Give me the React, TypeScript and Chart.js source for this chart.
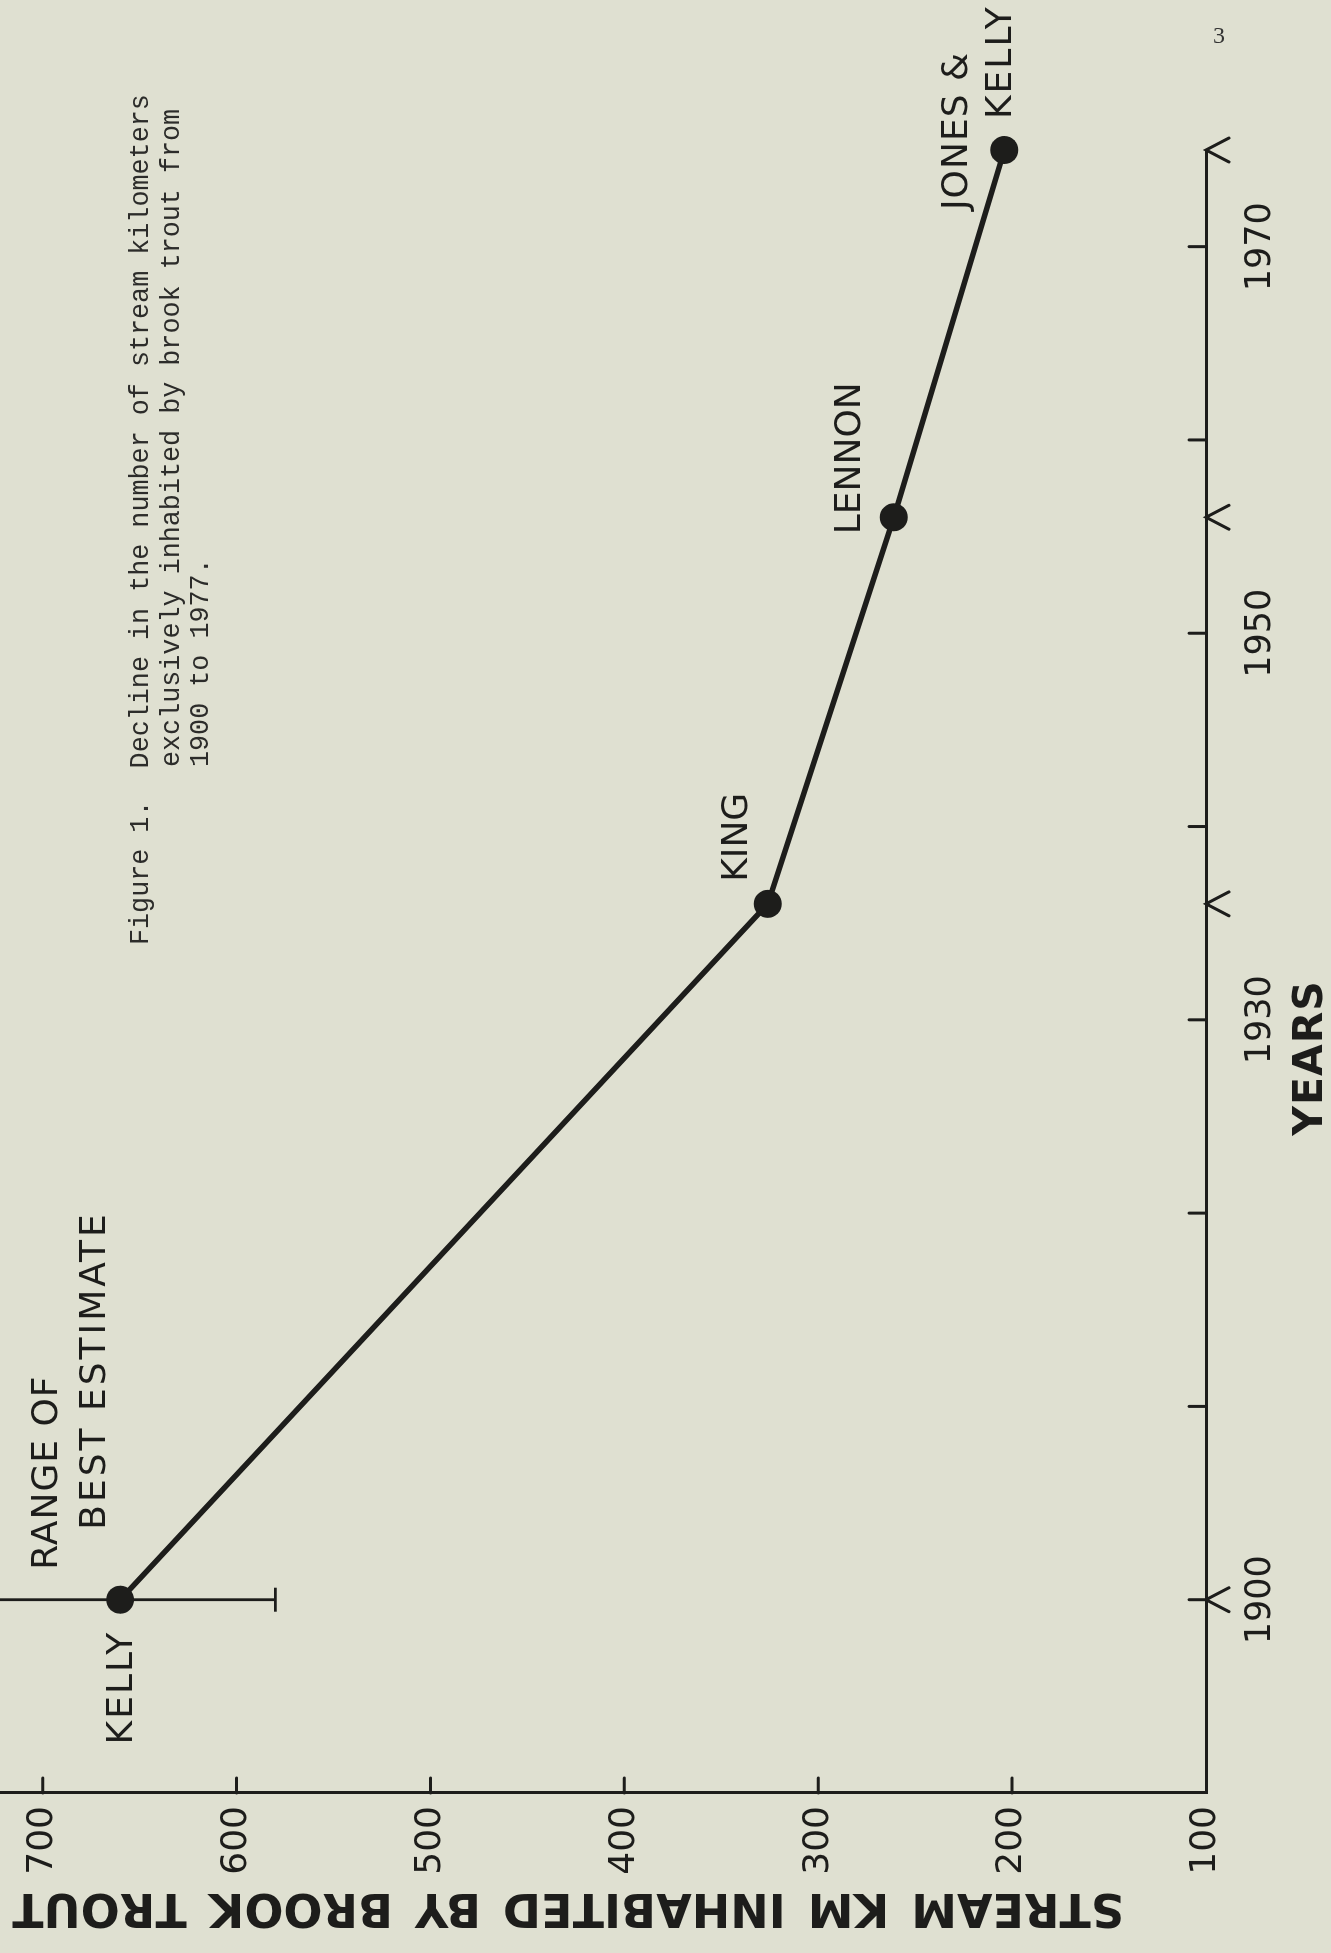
import React, { useEffect, useRef } from 'react';
import { Chart, registerables } from 'chart.js';

Chart.register(...registerables);

// ---- data ----
const sources = ['KELLY', 'KING', 'LENNON', 'JONES &|KELLY'];
const years = [1900, 1936, 1956, 1975];
const streamKm = [660, 326, 261, 204];
const kellyRangeLow = [580];
const kellyRangeHigh = [750];
const yearTicks = [1900, 1910, 1920, 1930, 1940, 1950, 1960, 1970];
const yearTickLabels = [1900, 1930, 1950, 1970];
const kmTicks = [100, 200, 300, 400, 500, 600, 700];
const yearRange = [1890, 1975];
const kmRange = [100, 722];
const xTitle = 'YEARS';
const yTitle = 'STREAM KM INHABITED BY BROOK TROUT';
const rangeNote = ['RANGE OF', 'BEST ESTIMATE'];
const captionLead = 'Figure 1.';
const captionLines = [
  'Decline in the number of stream kilometers',
  'exclusively inhabited by brook trout from',
  '1900 to 1977.',
];
const pageNumber = '3';

// ---- style ----
const INK = '#1d1d1b';
const PAPER = '#dfe0d1';
const LETTER = 'DejaVu Sans, Liberation Sans, sans-serif';

// label placement (offsets from the point, in chart pixels)
const labelOffsets: { dx: number; dy: number; align: CanvasTextAlign; spacing: number }[][] = [
  [{ dx: -31, dy: 2, align: 'right', spacing: 2 }],
  [{ dx: 22, dy: -30, align: 'left', spacing: 0 }],
  [{ dx: -17, dy: -43, align: 'left', spacing: 0 }],
  [
    { dx: -60, dy: -47, align: 'left', spacing: 1 },
    { dx: 31, dy: -3, align: 'left', spacing: 2 },
  ],
];

const annotate = {
  id: 'annotate',
  beforeDatasetsDraw(chart: any) {
    const { ctx, scales } = chart;
    const x = scales.x;
    const y = scales.y;
    ctx.save();
    ctx.strokeStyle = INK;
    ctx.lineWidth = 2.8;
    const px = x.getPixelForValue(years[0]);
    const lo = y.getPixelForValue(kellyRangeLow[0]);
    const hi = y.getPixelForValue(kellyRangeHigh[0]);
    ctx.beginPath();
    ctx.moveTo(px, hi);
    ctx.lineTo(px, lo);
    ctx.moveTo(px - 12, lo);
    ctx.lineTo(px + 12, lo);
    ctx.moveTo(px - 12, hi);
    ctx.lineTo(px + 12, hi);
    ctx.stroke();
    ctx.restore();
  },
  afterDraw(chart: any) {
    const { ctx, chartArea, scales } = chart;
    const x = scales.x;
    const y = scales.y;
    ctx.save();
    ctx.strokeStyle = INK;
    ctx.fillStyle = INK;
    ctx.lineWidth = 3;
    ctx.lineCap = 'round';
    // inward tick marks on the year axis
    ctx.beginPath();
    for (const yr of yearTicks) {
      const p = x.getPixelForValue(yr);
      ctx.moveTo(p, chartArea.bottom);
      ctx.lineTo(p, chartArea.bottom - 17);
    }
    // inward tick marks on the km axis
    for (const k of kmTicks) {
      if (k === kmRange[0]) continue;
      const p = y.getPixelForValue(k);
      ctx.moveTo(chartArea.left, p);
      ctx.lineTo(chartArea.left + 15, p);
    }
    // arrow marks at the survey years
    for (const yr of years) {
      const p = x.getPixelForValue(yr);
      ctx.moveTo(p - 12, chartArea.bottom + 23);
      ctx.lineTo(p, chartArea.bottom);
      ctx.lineTo(p + 12, chartArea.bottom + 23);
    }
    ctx.stroke();

    // km tick labels, from the scale's own ticks
    ctx.font = `36px ${LETTER}`;
    ctx.textBaseline = 'middle';
    ctx.textAlign = 'right';
    for (const t of y.ticks) {
      ctx.fillText(String(t.value), chartArea.left - 13, y.getPixelForValue(t.value));
    }

    // source labels
    sources.forEach((s, i) => {
      const px = x.getPixelForValue(years[i]);
      const py = y.getPixelForValue(streamKm[i]);
      s.split('|').forEach((line, j) => {
        const o = labelOffsets[i][j];
        ctx.textAlign = o.align;
        (ctx as any).letterSpacing = `${o.spacing}px`;
        ctx.fillText(line, px + o.dx, py + o.dy);
      });
    });

    // range note at the 1900 estimate
    const kx = x.getPixelForValue(years[0]);
    const ky = y.getPixelForValue(streamKm[0]);
    ctx.textAlign = 'left';
    (ctx as any).letterSpacing = '1px';
    ctx.fillText(rangeNote[0], kx + 30, ky - 73);
    (ctx as any).letterSpacing = '3px';
    ctx.fillText(rangeNote[1], kx + 70, ky - 25);

    // axis titles
    ctx.textAlign = 'center';
    ctx.font = `bold 41px ${LETTER}`;
    (ctx as any).letterSpacing = '1px';
    ctx.fillText(xTitle, chartArea.left + 735, chartArea.bottom + 105);

    ctx.font = `bold 46px ${LETTER}`;
    (ctx as any).letterSpacing = '0px';
    (ctx as any).wordSpacing = '6px';
    ctx.translate(chartArea.left - 113, chartArea.top + 568);
    ctx.rotate(-Math.PI / 2);
    ctx.fillText(yTitle, 0, 0);
    ctx.restore();
  },
};

export default function App() {
  const ref = useRef<HTMLCanvasElement>(null);

  useEffect(() => {
    const canvas = ref.current;
    if (!canvas) return;
    const chart = new Chart(canvas, {
      type: 'scatter',
      data: {
        datasets: [
          {
            data: years.map((yr, i) => ({ x: yr, y: streamKm[i] })),
            showLine: true,
            borderColor: INK,
            borderWidth: 5.5,
            backgroundColor: INK,
            pointRadius: 14,
            pointBackgroundColor: INK,
            pointBorderColor: INK,
            pointBorderWidth: 0,
            tension: 0,
            clip: false,
          } as any,
        ],
      },
      options: {
        animation: false,
        responsive: false,
        devicePixelRatio: 1,
        layout: { autoPadding: false, padding: { left: 0, right: 150, top: 0, bottom: 0 } },
        plugins: {
          legend: { display: false },
          tooltip: { enabled: false },
          title: { display: false },
        },
        scales: {
          x: {
            type: 'linear',
            position: 'bottom',
            min: yearRange[0],
            max: yearRange[1],
            afterBuildTicks: (s: any) => {
              s.ticks = yearTicks.map((v) => ({ value: v }));
            },
            afterFit: (s: any) => {
              s.height = 125;
              s.paddingLeft = 0;
              s.paddingRight = 0;
            },
            grid: { display: false, drawTicks: false },
            border: { display: true, color: INK, width: 3 },
            ticks: {
              autoSkip: false,
              maxRotation: 0,
              minRotation: 0,
              padding: 34,
              color: INK,
              font: { family: LETTER, size: 35 },
              callback: (v: any) => (yearTickLabels.includes(Number(v)) ? String(v) : ''),
            },
          },
          y: {
            type: 'linear',
            position: 'left',
            min: kmRange[0],
            max: kmRange[1],
            afterBuildTicks: (s: any) => {
              s.ticks = kmTicks.map((v) => ({ value: v }));
            },
            afterFit: (s: any) => {
              s.width = 160;
              s.paddingTop = 0;
              s.paddingBottom = 0;
            },
            grid: { display: false, drawTicks: false },
            border: { display: true, color: INK, width: 3 },
            ticks: { display: false },
          },
        },
      } as any,
      plugins: [annotate],
    });
    return () => chart.destroy();
  }, []);

  const captionStyle: React.CSSProperties = {
    position: 'absolute',
    fontFamily: '"Liberation Mono", "DejaVu Sans Mono", monospace',
    fontSize: 26.75,
    lineHeight: '30px',
    color: '#2c2c2a',
    whiteSpace: 'pre',
  };

  return (
    <div
      style={{
        position: 'absolute',
        left: 0,
        top: 0,
        width: 1331,
        height: 1953,
        overflow: 'hidden',
        background: PAPER,
      }}
    >
      <div
        style={{
          position: 'absolute',
          left: 0,
          top: 0,
          width: 1953,
          height: 1331,
          transformOrigin: '0 0',
          transform: 'translate(0px, 1953px) rotate(-90deg)',
        }}
      >
        <canvas
          ref={ref}
          width={1953}
          height={1331}
          style={{ position: 'absolute', left: 0, top: 0, width: 1953, height: 1331 }}
        />
        <div style={{ ...captionStyle, left: 1008, top: 126 }}>{captionLead + '  ' + captionLines[0]}</div>
        <div style={{ ...captionStyle, left: 1186, top: 157 }}>{captionLines[1]}</div>
        <div style={{ ...captionStyle, left: 1186, top: 186 }}>{captionLines[2]}</div>
      </div>
      <div
        style={{
          position: 'absolute',
          left: 1213,
          top: 22,
          fontFamily: '"Liberation Serif", serif',
          fontSize: 24,
          color: '#333',
        }}
      >
        {pageNumber}
      </div>
    </div>
  );
}
